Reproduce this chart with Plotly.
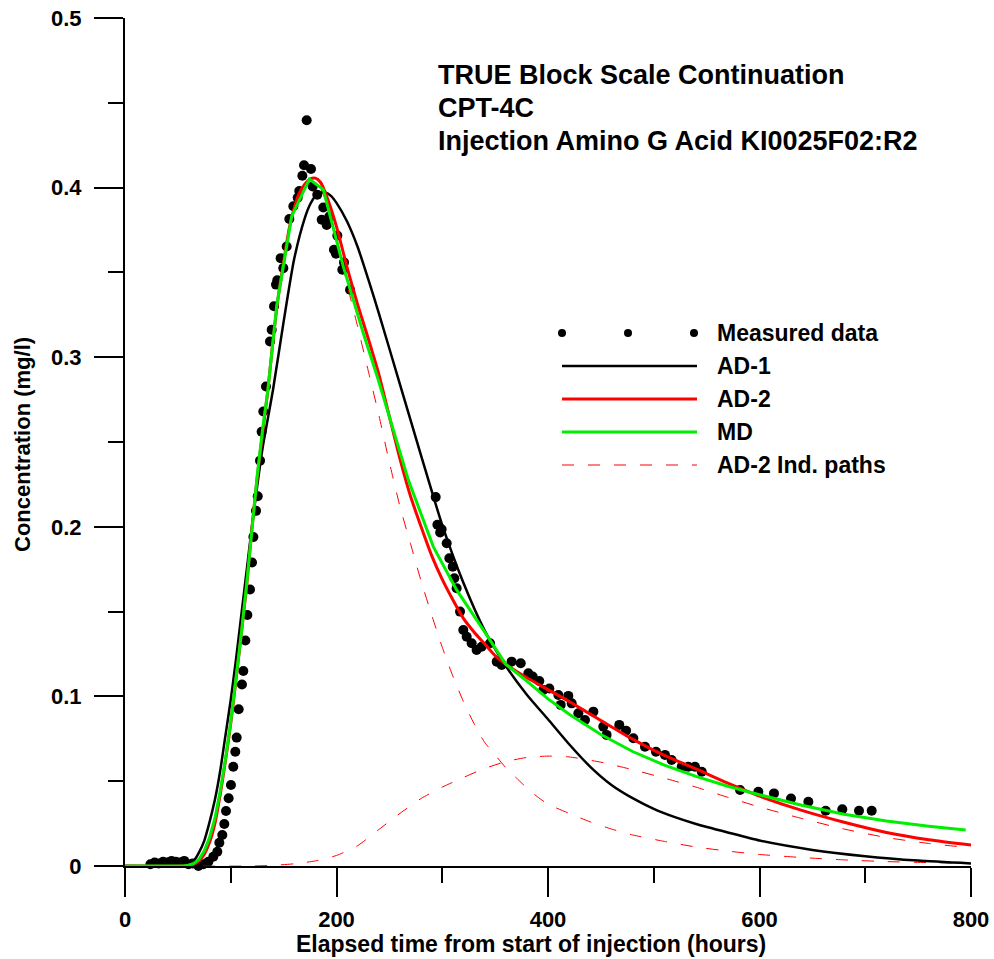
import plotly.graph_objects as go

# ---------------- data ----------------
meas_x = [24, 28, 32, 36, 40, 44, 48, 52, 56, 60, 64, 69.4, 74.1, 78.8, 83.5, 87.3, 89.2, 92.0, 93.9, 95.5,
          98.0, 100.2, 102.4, 104.3, 105.6, 107.5, 110.6, 111.9, 113.8, 115.7, 118.2, 120.1, 121.4, 123.9,
          125.5, 127.7, 129.2, 130.8, 133.3, 137.1, 138.7, 140.9, 142.8, 144.0, 147.2, 149.7, 152.9, 155.4,
          159.2, 163.3, 164.8, 167.7, 169.3, 171.8, 175.9, 177.5, 181.8, 186.0, 187.5, 190.7, 193.2, 197.6,
          199.5, 200.8, 205.5, 207.1, 212.8,
          293.8, 295.4, 298.0, 299.4, 304.2, 306.7, 309.9, 311.4, 313.6, 316.8, 319.9, 323.1, 327.8, 332.5,
          337.2, 345.2, 351.5, 356.2, 365.6, 374.2, 381.4, 385.5, 391.8, 395.6, 401.3, 409.8, 412.0, 419.2,
          422.4, 428.7, 435.0, 442.9, 452.3, 455.4, 467.4, 473.8, 480.7, 491.7, 502.1, 510.6, 516.9, 526.4,
          532.7, 539.0, 545.4,
          581.6, 598.9, 613.7, 629.8, 646.2, 662.6, 678.3, 694.1, 706.1]
meas_y = [0.001, 0.002, 0.0015, 0.0025, 0.002, 0.003, 0.0025, 0.002, 0.003, 0.001, 0.0015, 0.0, 0.001, 0.0025, 0.0055, 0.0084, 0.0137, 0.0183, 0.0248, 0.0324,
          0.0399, 0.0478, 0.0585, 0.0674, 0.0757, 0.0924, 0.107, 0.115, 0.133, 0.148, 0.163, 0.179, 0.194, 0.2094,
          0.218, 0.239, 0.256, 0.268, 0.2827, 0.3093, 0.3162, 0.330, 0.3428, 0.3453, 0.3584, 0.3525, 0.3653, 0.3815,
          0.389, 0.394, 0.398, 0.407, 0.4132, 0.4397, 0.411, 0.4007, 0.3958, 0.381, 0.3883, 0.378, 0.383, 0.3634,
          0.361, 0.3717, 0.3516, 0.3559, 0.3398,
          0.2175, 0.2012, 0.1966, 0.1986, 0.1903, 0.1815, 0.1765, 0.1697, 0.1638, 0.150, 0.1392, 0.1352, 0.1313, 0.1274,
          0.1293, 0.1313, 0.1205, 0.1185, 0.1205, 0.1195, 0.1136, 0.1117, 0.1091, 0.1038, 0.1047, 0.1008, 0.095, 0.1003,
          0.0959, 0.090, 0.0861, 0.091, 0.0822, 0.0773, 0.0832, 0.0798, 0.0753, 0.0703, 0.0674, 0.0655, 0.0625, 0.0585,
          0.0585, 0.0585, 0.0556,
          0.0448, 0.0438, 0.0428, 0.0398, 0.0379, 0.0326, 0.0334, 0.0326, 0.0326]

ad1_x = [0, 50, 55, 60, 65, 70, 75, 80, 85, 90, 95, 100, 105, 110, 115, 120, 125, 130, 140, 150, 160, 170,
         175, 180, 185, 190, 195, 200, 210, 220, 230, 240, 260, 280, 300, 320, 340, 360, 380, 400, 420, 440,
         460, 480, 500, 520, 540, 570, 600, 650, 700, 750, 800]
ad1_y = [0, 0, 0.0003, 0.001, 0.003, 0.008, 0.015, 0.026, 0.039, 0.056, 0.077, 0.098, 0.122, 0.148, 0.174, 0.200,
         0.224, 0.246, 0.281, 0.321, 0.358, 0.382, 0.390, 0.395, 0.397, 0.397, 0.395, 0.391, 0.380, 0.365, 0.346,
         0.326, 0.284, 0.242, 0.201, 0.167, 0.139, 0.118, 0.101, 0.0865, 0.0718, 0.0585, 0.0478, 0.040, 0.0337,
         0.0288, 0.0248, 0.0198, 0.0150, 0.0095, 0.0058, 0.0032, 0.0015]

ad2_x = [0, 55, 60, 65, 70, 75, 80, 85, 90, 95, 100, 105, 110, 115, 120, 125, 130, 135, 140, 145, 150, 155,
         160, 165, 170, 175, 180, 185, 190, 200, 210, 220, 230, 240, 250, 260, 270, 280, 290, 300, 310, 320,
         330, 340, 350, 360, 380, 400, 420, 450, 480, 510, 540, 570, 600, 640, 680, 720, 760, 800]
ad2_y = [0, 0, 0.0005, 0.001, 0.003, 0.007, 0.014, 0.025, 0.042, 0.062, 0.084, 0.110, 0.137, 0.165, 0.199, 0.229,
         0.255, 0.280, 0.310, 0.336, 0.356, 0.375, 0.388, 0.397, 0.402, 0.405, 0.4056, 0.403, 0.396, 0.377, 0.353,
         0.331, 0.311, 0.290, 0.265, 0.240, 0.218, 0.200, 0.183, 0.169, 0.157, 0.146, 0.138, 0.131, 0.124, 0.119,
         0.111, 0.104, 0.097, 0.0858, 0.0748, 0.0652, 0.0572, 0.0488, 0.0412, 0.0328, 0.0258, 0.0198, 0.0155, 0.0124]

md_x = [0, 55, 60, 65, 70, 75, 80, 85, 90, 95, 100, 105, 110, 115, 120, 125, 130, 135, 143.4, 150.4, 157.6,
        174.3, 187.5, 206.4, 225.3, 239.5, 267.9, 291.5, 313.6, 338.8, 360, 380, 400, 420, 450, 480, 510,
        540, 570, 600, 640, 680, 720, 760, 795]
md_y = [0, 0, 0.0005, 0.0015, 0.004, 0.009, 0.017, 0.028, 0.044, 0.063, 0.085, 0.110, 0.137, 0.166, 0.199, 0.230,
        0.257, 0.280, 0.330, 0.3575, 0.383, 0.405, 0.3988, 0.3535, 0.3142, 0.2867, 0.2277, 0.1883, 0.1628, 0.1392,
        0.119, 0.109, 0.0985, 0.0895, 0.0775, 0.0675, 0.0595, 0.0528, 0.047, 0.042, 0.0358, 0.0305, 0.0265, 0.0235,
        0.0212]

path1_x = [0, 55, 60, 65, 70, 75, 80, 85, 90, 95, 100, 105, 110, 115, 120, 125, 130, 135, 140, 145, 150, 155,
           160, 165, 170, 175, 180, 185, 190, 200, 210, 220, 230, 240, 250, 260, 270, 280, 290, 300, 310, 320,
           330, 340, 350, 360, 370, 380, 390, 400, 420, 440, 460, 480, 510, 540, 570, 600, 640, 680, 720, 760, 800]
path1_y = [0, 0, 0.0005, 0.001, 0.003, 0.007, 0.014, 0.025, 0.042, 0.062, 0.084, 0.110, 0.137, 0.165, 0.199, 0.229,
           0.255, 0.280, 0.310, 0.336, 0.356, 0.374, 0.387, 0.396, 0.400, 0.402, 0.402, 0.399, 0.392, 0.371, 0.343,
           0.318, 0.292, 0.266, 0.238, 0.212, 0.190, 0.168, 0.148, 0.129, 0.112, 0.097, 0.084, 0.073, 0.0655, 0.058,
           0.052, 0.046, 0.0408, 0.0365, 0.031, 0.026, 0.0218, 0.0183, 0.0145, 0.0112, 0.0088, 0.0068, 0.005, 0.0036,
           0.0026, 0.002, 0.0015]

path2_x = [0, 120, 140, 160, 180, 200, 220, 240, 260, 280, 300, 320, 340, 360, 380, 400, 420, 450, 480, 510,
           540, 570, 600, 640, 680, 720, 760, 800]
path2_y = [0, 0, 0.0004, 0.0013, 0.003, 0.0062, 0.012, 0.0215, 0.031, 0.0398, 0.0465, 0.0522, 0.0575, 0.0615,
           0.0640, 0.0648, 0.0643, 0.0612, 0.0568, 0.0518, 0.0465, 0.0405, 0.0348, 0.0280, 0.0218, 0.0168, 0.0133, 0.0107]

x_tickvals = [0, 200, 400, 600, 800]
x_ticktext = ["0", "200", "400", "600", "800"]
x_minor = [100, 300, 500, 700]
y_tickvals = [0, 0.1, 0.2, 0.3, 0.4, 0.5]
y_ticktext = ["0", "0.1", "0.2", "0.3", "0.4", "0.5"]
y_minor = [0.05, 0.15, 0.25, 0.35, 0.45]

title_lines = ["TRUE Block Scale Continuation", "CPT-4C", "Injection Amino G Acid KI0025F02:R2"]
legend_names = ["Measured data", "AD-1", "AD-2", "MD", "AD-2 Ind. paths"]
x_title = "Elapsed time from start of injection (hours)"
y_title = "Concentration (mg/l)"

# ---------------- figure ----------------
FONT = "Liberation Sans, Arial, sans-serif"
W, H = 994, 959
L, R, T, B = 125, 23, 18, 93
PW, PH = W - L - R, H - T - B


def px(x):
    return (x - L) / PW


def py(y):
    return (H - B - y) / PH


DASH = "12px,14px"
fig = go.Figure()
fig.add_trace(go.Scatter(x=meas_x, y=meas_y, mode="markers", cliponaxis=False,
                         marker=dict(color="black", size=10), showlegend=False))
fig.add_trace(go.Scatter(x=path1_x, y=path1_y, mode="lines", line_shape="spline",
                         line=dict(color="red", width=1, dash=DASH, smoothing=0.6), showlegend=False))
fig.add_trace(go.Scatter(x=path2_x, y=path2_y, mode="lines", line_shape="spline",
                         line=dict(color="red", width=1, dash=DASH, smoothing=0.6), showlegend=False))
fig.add_trace(go.Scatter(x=ad1_x, y=ad1_y, mode="lines", line_shape="spline",
                         line=dict(color="black", width=2.5, smoothing=0.6), showlegend=False))
fig.add_trace(go.Scatter(x=ad2_x, y=ad2_y, mode="lines", line_shape="spline",
                         line=dict(color="#ff0000", width=3, smoothing=0.6), showlegend=False))
fig.add_trace(go.Scatter(x=md_x, y=md_y, mode="lines", line=dict(color="#00ee00", width=3), showlegend=False))

axis_common = dict(showgrid=False, zeroline=False, showline=True, linecolor="black", linewidth=2,
                   ticks="outside", ticklen=29, tickwidth=2, tickcolor="black",
                   tickfont=dict(family=FONT, size=22, color="black", weight="bold"))
fig.update_xaxes(range=[0, 800], tickmode="array", tickvals=x_tickvals, ticktext=x_ticktext,
                 minor=dict(tickmode="array", tickvals=x_minor, ticks="outside", ticklen=15, tickwidth=2,
                            tickcolor="black"),
                 ticklabelstandoff=4, **axis_common)
fig.update_yaxes(range=[0, 0.5], tickmode="array", tickvals=y_tickvals, ticktext=y_ticktext,
                 minor=dict(tickmode="array", tickvals=y_minor, ticks="outside", ticklen=15, tickwidth=2,
                            tickcolor="black"),
                 ticklabelstandoff=8, **axis_common)

annotations = []
for i, line in enumerate(title_lines):
    annotations.append(dict(xref="paper", yref="paper", x=px(436), y=py(75 + 33 * i), xanchor="left",
                            yanchor="middle", text="<b>%s</b>" % line, showarrow=False,
                            font=dict(family=FONT, size=27, color="black")))
annotations.append(dict(xref="paper", yref="paper", x=px(531), y=py(944), xanchor="center", yanchor="middle",
                        text="<b>%s</b>" % x_title, showarrow=False,
                        font=dict(family=FONT, size=23, color="black")))
annotations.append(dict(xref="paper", yref="paper", x=px(22), y=py(445), xanchor="center", yanchor="middle",
                        text="<b>%s</b>" % y_title, textangle=-90, showarrow=False,
                        font=dict(family=FONT, size=22, color="black")))

rows = [333, 366, 399, 432, 465]
for name, ry in zip(legend_names, rows):
    annotations.append(dict(xref="paper", yref="paper", x=px(715), y=py(ry), xanchor="left", yanchor="middle",
                            text="<b>%s</b>" % name, showarrow=False,
                            font=dict(family=FONT, size=23, color="black")))

shapes = []
for cx in [562, 628, 694]:
    shapes.append(dict(type="circle", xref="paper", yref="paper", x0=px(cx - 4), x1=px(cx + 4),
                       y0=py(rows[0] + 4), y1=py(rows[0] - 4), fillcolor="black", line=dict(width=0)))
for ry, col, wd, dash in [(rows[1], "black", 2.5, "solid"), (rows[2], "#ff0000", 3, "solid"),
                          (rows[3], "#00ee00", 3, "solid"), (rows[4], "red", 1, DASH)]:
    shapes.append(dict(type="line", xref="paper", yref="paper", x0=px(562), x1=px(697),
                       y0=py(ry), y1=py(ry), line=dict(color=col, width=wd, dash=dash)))

fig.update_layout(width=W, height=H, margin=dict(l=L, r=R, t=T, b=B, autoexpand=False),
                  paper_bgcolor="white", plot_bgcolor="white", showlegend=False,
                  annotations=annotations, shapes=shapes,
                  font=dict(family=FONT, color="black"))

fig.write_html("out.html", config={"displayModeBar": False},
               post_script="document.body.style.margin='0';document.body.style.overflow='hidden';")
